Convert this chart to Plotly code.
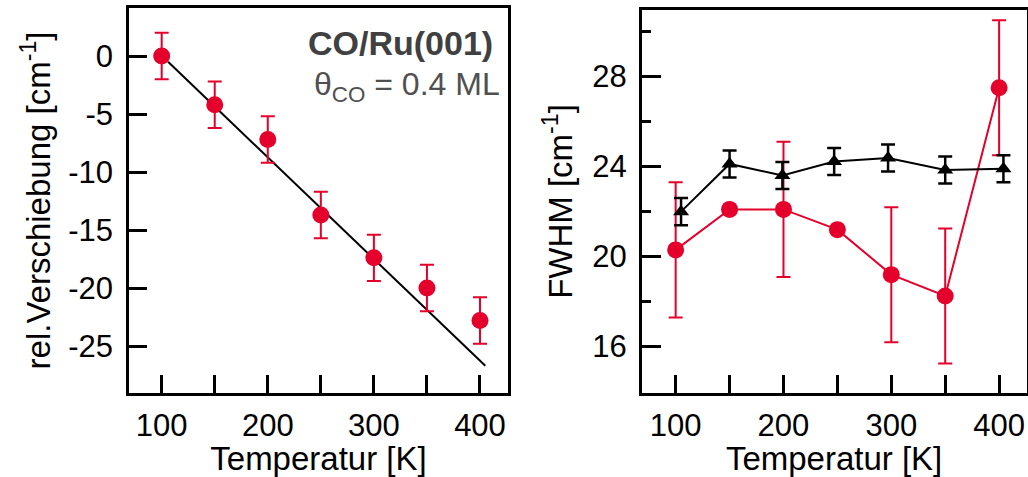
import plotly.graph_objects as go

# ---- data ----
temp = [100, 150, 200, 250, 300, 350, 400]
shift = [0.0, -4.2, -7.2, -13.7, -17.4, -20.0, -22.8]
shift_err = [2, 2, 2, 2, 2, 2, 2]
fit_x = [106, 405]
fit_y = [-0.5, -26.7]

fwhm_red = [20.3, 22.1, 22.1, 21.2, 19.2, 18.25, 27.5]
fwhm_red_err = [3, 0, 3, 0, 3, 3, 3]
temp_tri = [105, 150, 199, 247, 297, 350, 404]
fwhm_black = [22.0, 24.12, 23.61, 24.23, 24.38, 23.85, 23.9]
fwhm_black_err = [0.6, 0.6, 0.6, 0.6, 0.6, 0.6, 0.6]

x_ticks = [100, 200, 300, 400]
x_minor = [150, 250, 350]
y1_ticks = [0, -5, -10, -15, -20, -25]
y1_labels = ["0", "-5", "-10", "-15", "-20", "-25"]
y2_ticks = [16, 20, 24, 28]
y2_minor = [18, 22, 26, 30]

RED = "#E4002B"
FONT = "Arial, Liberation Sans, sans-serif"

fig = go.Figure()

fig.add_trace(go.Scatter(x=fit_x, y=fit_y, mode="lines",
                         line=dict(color="black", width=2),
                         xaxis="x", yaxis="y", showlegend=False))
fig.add_trace(go.Scatter(x=temp, y=shift, mode="markers",
                         marker=dict(color=RED, size=17, symbol="circle"),
                         error_y=dict(type="data", array=shift_err, color=RED,
                                      thickness=2, width=7),
                         xaxis="x", yaxis="y", showlegend=False))

fig.add_trace(go.Scatter(x=temp, y=fwhm_red, mode="lines+markers",
                         line=dict(color=RED, width=2),
                         marker=dict(color=RED, size=17, symbol="circle"),
                         error_y=dict(type="data", array=fwhm_red_err, color=RED,
                                      thickness=2, width=7),
                         xaxis="x2", yaxis="y2", showlegend=False))
fig.add_trace(go.Scatter(x=temp_tri, y=fwhm_black, mode="lines+markers",
                         line=dict(color="black", width=2),
                         marker=dict(color="black", size=14, symbol="triangle-up"),
                         error_y=dict(type="data", array=fwhm_black_err, color="black",
                                      thickness=2.5, width=7),
                         xaxis="x2", yaxis="y2", showlegend=False))

H = 477
def py(px):
    return (H - px) / H

axis_common = dict(showline=True, linecolor="black", linewidth=2.5, mirror=True,
                   ticks="inside", tickcolor="black", tickwidth=2.5,
                   showgrid=False, zeroline=False,
                   tickfont=dict(family=FONT, size=31, color="black"))

TITLE_FONT = dict(family=FONT, size=33, color="black")

fig.update_layout(
    width=1028, height=477,
    margin=dict(l=0, r=0, t=0, b=0),
    paper_bgcolor="white", plot_bgcolor="white",
    font=dict(family=FONT, color="black"),
    xaxis=dict(domain=[129/1028, 508/1028], range=[69.2, 426.4],
               tickvals=x_ticks, ticklen=18, ticklabelstandoff=3,
               minor=dict(tickvals=x_minor, ticks="inside", ticklen=18,
                          tickwidth=2.5, tickcolor="black"),
               anchor="y",
               title=dict(text="Temperatur [K]", font=TITLE_FONT, standoff=0),
               **axis_common),
    yaxis=dict(domain=[py(393), py(8)], range=[-29.05, 4.14],
               tickvals=y1_ticks, ticktext=y1_labels, ticklen=18,
               ticklabelstandoff=7,
               anchor="x",
               title=dict(text="rel.Verschiebung [cm<sup>-1</sup>]",
                          font=TITLE_FONT, standoff=8),
               **axis_common),
    xaxis2=dict(domain=[641.7/1028, 1026.5/1028], range=[68.5, 425.4],
                tickvals=x_ticks, ticklen=18, ticklabelstandoff=3,
                minor=dict(tickvals=x_minor, ticks="inside", ticklen=18,
                           tickwidth=2.5, tickcolor="black"),
                anchor="y2",
                title=dict(text="Temperatur [K]", font=TITLE_FONT, standoff=0),
                **axis_common),
    yaxis2=dict(domain=[py(393), py(10)], range=[13.94, 30.96],
                tickvals=y2_ticks, ticklen=20, ticklabelstandoff=6,
                minor=dict(tickvals=y2_minor, ticks="inside", ticklen=10,
                           tickwidth=2.5, tickcolor="black"),
                anchor="x2",
                title=dict(text="FWHM [cm<sup>-1</sup>]",
                           font=TITLE_FONT, standoff=10),
                **axis_common),
)

fig.add_annotation(x=495/1028, y=py(43), xref="paper", yref="paper",
                   xanchor="right", yanchor="middle", showarrow=False,
                   text="<b>CO/Ru(001)</b>",
                   font=dict(family=FONT, size=34, color="#404040"))
fig.add_annotation(x=502/1028, y=py(86), xref="paper", yref="paper",
                   xanchor="right", yanchor="middle", showarrow=False,
                   text="θ<sub>CO</sub> = 0.4 ML",
                   font=dict(family=FONT, size=32, color="#505050"))

fig.write_html("out.html", config={"displayModeBar": False},
               post_script="document.body.style.margin='0';"
                           "document.body.style.overflow='hidden';")
